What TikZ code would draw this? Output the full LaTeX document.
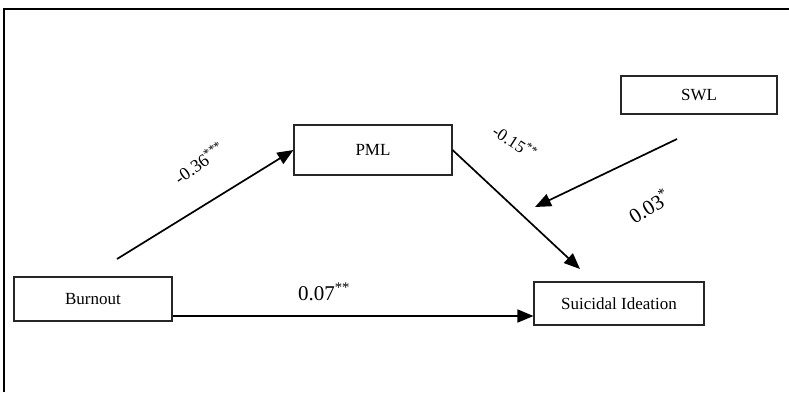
\documentclass[tikz,border=0pt]{standalone}
\usepackage{fontspec}
\setmainfont{Liberation Serif}
\usetikzlibrary{arrows.meta,positioning}

\begin{document}
\begin{tikzpicture}[
    x=1pt,y=-1pt,
    >={Triangle[length=16pt,width=13pt]},
    var/.style={draw=black!85,line width=1.1pt,fill=white,inner sep=0pt,
        font=\fontsize{17}{20}\selectfont},
    path/.style={->,line width=1.7pt,draw=black},
    coef/.style={inner sep=1pt}]
\useasboundingbox (0,0) rectangle (789,392);
\draw[line width=2.2pt] (4,392)--(4,9)--(789,9);
\node[var,minimum width=158pt,minimum height=44pt] (burnout) at (93,299) {Burnout};
\node[var,minimum width=158pt,minimum height=50pt] (pml) at (373,150) {PML};
\node[var,minimum width=156pt,minimum height=38pt] (swl) at (699,95) {SWL};
\node[var,minimum width=170pt,minimum height=43pt] (ideation) at (619,303.5) {Suicidal Ideation};
\coordinate (b-out) at (117,259);
\coordinate (low) at (350,316);
\coordinate (i-in) at (580,269);
\coordinate (s-out) at (677,139);
\coordinate (s-in) at (535,207);
\draw[path] (b-out)--(pml.west);
\draw[path] (pml.east)--(i-in);
\draw[path] (s-out)--(s-in);
\draw[path] (burnout.east |- low)--(ideation.west |- low);
\node[coef,rotate=35,font=\fontsize{18}{20}\selectfont] (a-path) at (199,163) {-0.36\textsuperscript{***}};
\node[coef,rotate=-33,font=\fontsize{17}{20}\selectfont] (b-path) at (515,142) {-0.15\textsuperscript{**}};
\node[coef,rotate=32,font=\fontsize{21}{24}\selectfont] (w-path) at (649,206) {0.03\textsuperscript{*}};
\node[coef,font=\fontsize{21}{24}\selectfont] (c-path) at (324,292) {0.07\textsuperscript{**}};
\end{tikzpicture}
\end{document}
